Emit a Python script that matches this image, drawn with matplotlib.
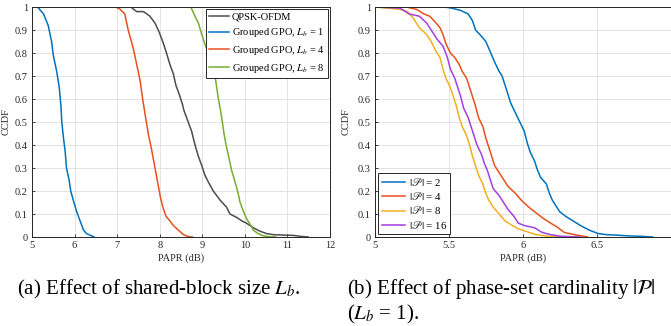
import numpy as np
import matplotlib
matplotlib.use("Agg")
import matplotlib.pyplot as plt

plt.rcParams['font.family'] = ['Liberation Serif', 'DejaVu Serif']
plt.rcParams['mathtext.fontset'] = 'stix'

# (a) 공유 블록 크기 Lb 에 따른 CCDF
papr_ofdm = [7.32, 7.46, 7.62, 7.77, 7.89, 7.99, 8.09, 8.16, 8.24, 8.32, 8.38, 8.46, 8.53, 8.57,
             8.67, 8.75, 8.83, 8.91, 8.99, 9.06, 9.14, 9.26, 9.34, 9.42, 9.57, 9.65, 9.81, 9.93,
             10.04, 10.2, 10.36, 10.51, 10.67, 10.98, 11.14, 11.3, 11.49]
ccdf_ofdm = [1.0, 0.98, 0.98, 0.96, 0.93, 0.89, 0.84, 0.80, 0.75, 0.71, 0.66, 0.62, 0.58, 0.55,
             0.50, 0.46, 0.40, 0.35, 0.31, 0.27, 0.24, 0.20, 0.18, 0.16, 0.13, 0.10, 0.085, 0.07,
             0.06, 0.04, 0.025, 0.015, 0.01, 0.008, 0.007, 0.003, 0.0]

papr_lb1 = [5.13, 5.27, 5.38, 5.46, 5.5, 5.58, 5.64, 5.68, 5.70, 5.74, 5.78, 5.81, 5.87, 5.91,
            5.97, 6.05, 6.13, 6.21, 6.28, 6.40, 6.46]
ccdf_lb1 = [1.0, 0.97, 0.92, 0.85, 0.79, 0.72, 0.65, 0.57, 0.50, 0.43, 0.37, 0.30, 0.25, 0.20,
            0.16, 0.11, 0.07, 0.03, 0.015, 0.005, 0.0]

papr_lb4 = [6.97, 7.07, 7.18, 7.26, 7.38, 7.46, 7.54, 7.60, 7.66, 7.73, 7.81, 7.89, 7.97, 8.02,
            8.09, 8.15, 8.24, 8.32, 8.44, 8.56, 8.67, 8.77]
ccdf_lb4 = [1.0, 0.99, 0.97, 0.90, 0.82, 0.75, 0.68, 0.60, 0.53, 0.45, 0.38, 0.30, 0.22, 0.17,
            0.12, 0.09, 0.07, 0.05, 0.03, 0.01, 0.002, 0.0]

papr_lb8 = [8.73, 8.83, 8.91, 8.99, 9.06, 9.14, 9.22, 9.30, 9.34, 9.38, 9.43, 9.48, 9.51, 9.56,
            9.62, 9.69, 9.77, 9.83, 9.89, 9.97, 10.04, 10.14, 10.2, 10.31, 10.43, 10.59, 10.73]
ccdf_lb8 = [1.0, 0.96, 0.93, 0.88, 0.84, 0.80, 0.76, 0.70, 0.65, 0.60, 0.55, 0.49, 0.45, 0.40,
            0.35, 0.29, 0.24, 0.20, 0.15, 0.11, 0.08, 0.05, 0.03, 0.015, 0.005, 0.001, 0.0]

# (b) 위상 집합 크기 |P| 에 따른 CCDF (Lb = 1)
papr_p2 = [5.0, 5.47, 5.52, 5.58, 5.63, 5.66, 5.68, 5.71, 5.75, 5.77, 5.79, 5.81, 5.84, 5.86,
           5.88, 5.90, 5.92, 5.95, 5.98, 6.01, 6.03, 6.05, 6.08, 6.10, 6.12, 6.16, 6.18, 6.20,
           6.23, 6.25, 6.29, 6.34, 6.39, 6.45, 6.51, 6.57, 6.64, 6.71, 6.80, 6.88]
ccdf_p2 = [1.0, 1.0, 0.995, 0.985, 0.97, 0.94, 0.90, 0.88, 0.85, 0.82, 0.79, 0.76, 0.72, 0.70,
           0.66, 0.62, 0.58, 0.54, 0.50, 0.46, 0.41, 0.37, 0.33, 0.29, 0.26, 0.23, 0.19, 0.16,
           0.13, 0.11, 0.09, 0.07, 0.05, 0.03, 0.015, 0.01, 0.008, 0.005, 0.003, 0.0]

papr_p4 = [5.0, 5.21, 5.28, 5.33, 5.37, 5.40, 5.44, 5.46, 5.48, 5.51, 5.54, 5.57, 5.59, 5.62,
           5.64, 5.66, 5.68, 5.70, 5.73, 5.75, 5.77, 5.79, 5.81, 5.84, 5.87, 5.90, 5.95, 5.99,
           6.04, 6.08, 6.14, 6.19, 6.24, 6.28, 6.35, 6.44]
ccdf_p4 = [1.0, 1.0, 0.99, 0.97, 0.96, 0.94, 0.91, 0.88, 0.84, 0.80, 0.78, 0.75, 0.72, 0.69,
           0.65, 0.61, 0.57, 0.52, 0.48, 0.43, 0.39, 0.35, 0.31, 0.28, 0.25, 0.22, 0.19, 0.16,
           0.13, 0.11, 0.08, 0.06, 0.04, 0.02, 0.01, 0.0]

papr_p8 = [5.0, 5.17, 5.22, 5.26, 5.30, 5.35, 5.38, 5.41, 5.44, 5.46, 5.48, 5.51, 5.53, 5.55,
           5.57, 5.59, 5.62, 5.64, 5.66, 5.68, 5.70, 5.73, 5.75, 5.77, 5.80, 5.84, 5.88, 5.93,
           5.97, 6.02, 6.09, 6.17, 6.26]
ccdf_p8 = [1.0, 0.99, 0.98, 0.95, 0.91, 0.88, 0.85, 0.81, 0.78, 0.73, 0.69, 0.65, 0.61, 0.57,
           0.52, 0.48, 0.44, 0.40, 0.35, 0.31, 0.27, 0.23, 0.19, 0.16, 0.13, 0.10, 0.07, 0.05,
           0.035, 0.025, 0.01, 0.003, 0.0]

papr_p16 = [5.0, 5.17, 5.23, 5.30, 5.35, 5.39, 5.42, 5.46, 5.49, 5.51, 5.54, 5.56, 5.58, 5.60,
            5.63, 5.65, 5.67, 5.69, 5.72, 5.74, 5.76, 5.78, 5.80, 5.84, 5.87, 5.90, 5.94, 5.97,
            6.01, 6.08, 6.13, 6.19, 6.26, 6.39]
ccdf_p16 = [1.0, 0.995, 0.97, 0.96, 0.93, 0.89, 0.86, 0.83, 0.78, 0.73, 0.69, 0.65, 0.61, 0.56,
            0.52, 0.48, 0.44, 0.40, 0.36, 0.32, 0.29, 0.25, 0.21, 0.18, 0.15, 0.12, 0.09, 0.06,
            0.05, 0.04, 0.02, 0.01, 0.003, 0.0]

yticks = np.arange(0, 1.01, 0.1)
ytick_labels = ['0', '0.1', '0.2', '0.3', '0.4', '0.5', '0.6', '0.7', '0.8', '0.9', '1']

fig = plt.figure(figsize=(6.71, 3.26), dpi=100)
ax1 = fig.add_axes([0.0477, 0.273, 0.444, 0.7055])
ax2 = fig.add_axes([0.5589, 0.273, 0.4404, 0.7055])

lw = 1.1
ax1.plot(papr_ofdm, ccdf_ofdm, color='#4d4d4d', lw=lw, label='QPSK-OFDM')
ax1.plot(papr_lb1, ccdf_lb1, color='#0072BD', lw=lw, label='Grouped GPO, $L_b$ = 1')
ax1.plot(papr_lb4, ccdf_lb4, color='#E8501C', lw=lw, label='Grouped GPO, $L_b$ = 4')
ax1.plot(papr_lb8, ccdf_lb8, color='#77AC30', lw=lw, label='Grouped GPO, $L_b$ = 8')
ax1.set_xlim(5, 12)
ax1.set_xticks(range(5, 13))

ax2.plot(papr_p2, ccdf_p2, color='#0072BD', lw=lw, label=r'$|\mathscr{P}|$ = 2')
ax2.plot(papr_p4, ccdf_p4, color='#E8501C', lw=lw, label=r'$|\mathscr{P}|$ = 4')
ax2.plot(papr_p8, ccdf_p8, color='#F2B01E', lw=lw, label=r'$|\mathscr{P}|$ = 8')
ax2.plot(papr_p16, ccdf_p16, color='#A43FE0', lw=lw, label=r'$|\mathscr{P}|$ = 16')
ax2.set_xlim(5, 7)
ax2.set_xticks([5, 5.5, 6, 6.5])
ax2.set_xticklabels(['5', '5.5', '6', '6.5'])

for ax in (ax1, ax2):
    ax.set_ylim(0, 1)
    ax.set_yticks(yticks)
    ax.set_yticklabels(ytick_labels)
    ax.grid(True, color='#e3e3e3', lw=0.7)
    ax.set_axisbelow(True)
    ax.tick_params(labelsize=7.5, length=2.5, width=0.6, direction='in', pad=3, colors='#262626')
    for s in ax.spines.values():
        s.set_color('#262626')
        s.set_linewidth(0.7)
    ax.set_xlabel('PAPR (dB)', fontsize=7.5, labelpad=2, color='#262626')
    ax.set_ylabel('CCDF', fontsize=7.5, color='#262626')

ax1.yaxis.set_label_coords(-0.072, 0.5)
ax2.yaxis.set_label_coords(-0.083, 0.5)

leg1 = ax1.legend(loc='upper right', fontsize=7.5, frameon=True, fancybox=False,
                  borderaxespad=0.2, handlelength=1.9, handletextpad=0.3, labelspacing=0.45,
                  borderpad=0.3)
leg2 = ax2.legend(loc='lower left', fontsize=7.8, frameon=True, fancybox=False,
                  borderaxespad=0.3, handlelength=2.2, handletextpad=0.3, labelspacing=0.2,
                  borderpad=0.3)
for leg in (leg1, leg2):
    leg.get_frame().set_edgecolor('#262626')
    leg.get_frame().set_linewidth(0.7)
    leg.get_frame().set_alpha(1)

fig.text(0.026, 0.097, '(a) Effect of shared-block size $L_b$.', fontsize=15, va='baseline')
fig.text(0.517, 0.097, r'(b) Effect of phase-set cardinality $|\mathcal{P}|$', fontsize=15, va='baseline')
fig.text(0.517, 0.02, '($L_b$ = 1).', fontsize=15, va='baseline')

fig.savefig('out.png', dpi=100)
